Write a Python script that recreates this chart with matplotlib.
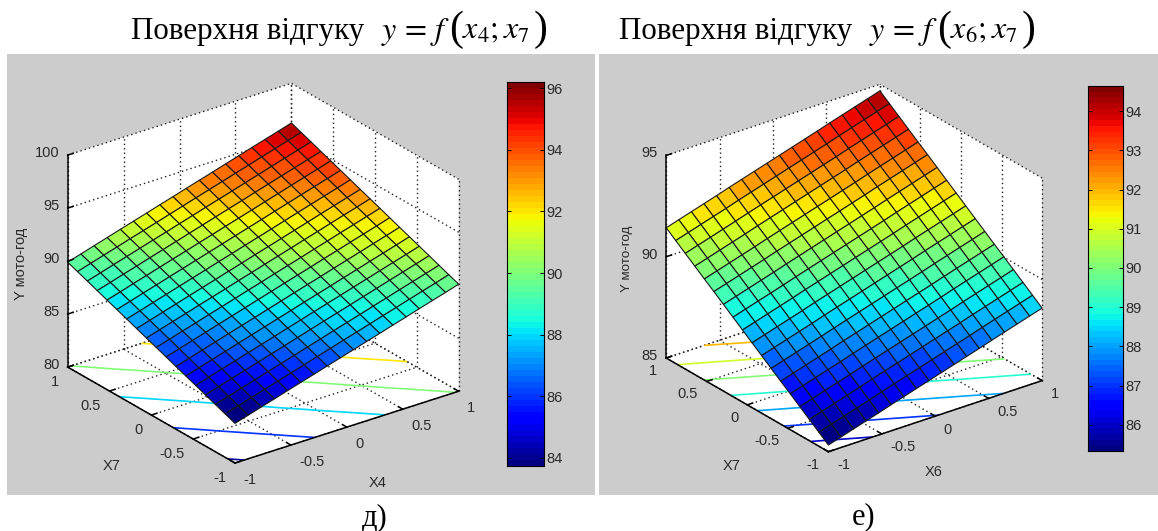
"""Response surfaces y = f(x4; x7) and y = f(x6; x7), MATLAB surfc style."""
import numpy as np
import matplotlib
matplotlib.use("Agg")
import matplotlib.pyplot as plt
from matplotlib.colors import Normalize
from matplotlib.patches import Rectangle
from mpl_toolkits.mplot3d import proj3d

W, H = 1158, 531
plt.rcParams["font.family"] = ["Liberation Sans", "DejaVu Sans"]
plt.rcParams["mathtext.fontset"] = "stix"

XY_TICKS = [-1, -0.5, 0, 0.5, 1]
XY_LABELS = ["-1", "-0.5", "0", "0.5", "1"]

# left panel: value at the (-1,-1) corner, rise along each edge
# interior cells are taken as the sum of the two edges
base_a = 83.74
x4_rise = [0, .37, .75, 1.12, 1.50, 1.87, 2.24, 2.62, 2.99, 3.37, 3.74, 4.11, 4.49, 4.86, 5.24, 5.61, 5.98, 6.36]
x7_rise_a = [0, .36, .72, 1.09, 1.45, 1.81, 2.17, 2.54, 2.90, 3.26, 3.62, 3.99, 4.35, 4.71, 5.07, 5.44, 5.80, 6.16]
z_ticks_a = [80, 85, 90, 95, 100]
cbar_ticks_a = [84, 86, 88, 90, 92, 94, 96]
levels_a = [84, 86, 88, 90, 92, 94, 96]
clim_a = (83.74, 96.2)

# right panel
base_b = 85.33
x6_rise = [0, .19, .38, .57, .76, .96, 1.15, 1.34, 1.53, 1.72, 1.91, 2.10, 2.29, 2.49, 2.68, 2.87, 3.06, 3.25]
x7_rise_b = [0, .36, .72, 1.08, 1.44, 1.79, 2.15, 2.51, 2.87, 3.23, 3.59, 3.95, 4.31, 4.66, 5.02, 5.38, 5.74, 6.10]
z_ticks_b = [85, 90, 95]
cbar_ticks_b = [86, 87, 88, 89, 90, 91, 92, 93, 94]
levels_b = [86, 87, 88, 89, 90, 91, 92, 93, 94]
clim_b = (85.33, 94.64)

cmap = plt.get_cmap("jet", 64)
TEXT = "#2a2a2a"
TICK_SIZE = 10.5


def fx(px):
    return px / W


def fy(py):
    return 1 - py / H


def project(ax, x, y, z):
    xs, ys, _ = proj3d.proj_transform(x, y, z, ax.get_proj())
    return ax.transData.transform((xs, ys))


def fit_box(ax, zmin, left_px, right_px, front_px):
    """Scale and shift the square 3D axes so the floor corners land on given pixels."""
    side = 500.0
    ax.set_position([fx(100), fy(600), side / W, side / H])
    ax.apply_aspect()
    a, b = project(ax, -1, 1, zmin), project(ax, 1, -1, zmin)
    side *= (right_px - left_px) / (b[0] - a[0])
    ax.set_position([fx(100), fy(600), side / W, side / H])
    ax.apply_aspect()
    f = project(ax, -1, -1, zmin)
    x0 = 100 + front_px[0] - f[0]
    y0 = 600 - ((H - front_px[1]) - f[1])
    ax.set_position([fx(x0), fy(y0), side / W, side / H])
    ax.apply_aspect()


def tick_label(fig, ax, point, text, dx, dy, ha):
    px, py = project(ax, *point)
    fig.text((px + dx) / W, (py - dy) / H, text, ha=ha, va="center",
             fontsize=TICK_SIZE, color=TEXT)


def draw_panel(fig, x_rise, y_rise, base, z_ticks, levels, clim, cbar_ticks,
               view, zratio, left_px, right_px, front_px, cbar_box, label_dy):
    ax = fig.add_axes([0, 0, 0.3, 0.3], projection="3d", proj_type="ortho")
    ax.set_axis_off()
    ax.patch.set_visible(False)
    ax.computed_zorder = False
    ax.view_init(elev=view[0], azim=view[1])
    zmin, zmax = z_ticks[0], z_ticks[-1]
    ax.set_xlim(-1, 1)
    ax.set_ylim(-1, 1)
    ax.set_zlim(zmin, zmax)
    ax.set_box_aspect((1, 1, zratio))
    fit_box(ax, zmin, left_px, right_px, front_px)

    # white walls and floor
    flat = np.array([[-1, 1], [-1, 1]])
    updown = flat.T
    wall_z = (updown + 1) / 2 * (zmax - zmin) + zmin
    ax.plot_surface(flat, updown, np.full((2, 2), zmin), color="white", shade=False, zorder=1)
    ax.plot_surface(flat, np.ones((2, 2)), wall_z, color="white", shade=False, zorder=1)
    ax.plot_surface(np.ones((2, 2)), flat, wall_z, color="white", shade=False, zorder=1)

    # dotted grid
    dots = dict(color="#222222", lw=1.0, ls=(0, (1, 2.2)), zorder=2, clip_on=False)
    for t in XY_TICKS:
        ax.plot([t, t], [-1, 1], [zmin, zmin], **dots)
        ax.plot([-1, 1], [t, t], [zmin, zmin], **dots)
        ax.plot([t, t], [1, 1], [zmin, zmax], **dots)
        ax.plot([1, 1], [t, t], [zmin, zmax], **dots)
    for t in z_ticks:
        ax.plot([-1, 1], [1, 1], [t, t], **dots)
        ax.plot([1, 1], [-1, 1], [t, t], **dots)

    # surface and its floor contours
    xs = np.linspace(-1, 1, len(x_rise))
    ys = np.linspace(-1, 1, len(y_rise))
    X, Y = np.meshgrid(xs, ys)
    Z = base + np.add.outer(np.array(y_rise), np.array(x_rise))
    norm = Normalize(*clim)
    ax.contour(X, Y, Z, levels=levels, zdir="z", offset=zmin, cmap=cmap, norm=norm,
               linewidths=1.2, zorder=3)
    surf = ax.plot_surface(X, Y, Z, rstride=1, cstride=1, facecolors=cmap(norm(Z)),
                           edgecolor="#181818", linewidth=0.8, shade=False, zorder=4)
    surf.set_clip_on(False)

    # solid axes, tick marks and tick labels
    solid = dict(color="black", lw=1.1, zorder=5, clip_on=False)
    ax.plot([-1, -1], [-1, 1], [zmin, zmin], **solid)
    ax.plot([-1, 1], [-1, -1], [zmin, zmin], **solid)
    ax.plot([-1, -1], [1, 1], [zmin, zmax], **solid)
    for t, lab in zip(XY_TICKS, XY_LABELS):
        ax.plot([t, t], [-1, -0.95], [zmin, zmin], **solid)
        ax.plot([-1, -0.95], [t, t], [zmin, zmin], **solid)
        tick_label(fig, ax, (t, -1, zmin), lab, 8.5, label_dy[0], "left")
        tick_label(fig, ax, (-1, t, zmin), lab, -8.7, label_dy[1], "right")
    for t in z_ticks:
        ax.plot([-1, -0.95], [1, 1], [t, t], **solid)
        tick_label(fig, ax, (-1, 1, t), str(t), -8.4, -2, "right")

    # colorbar
    cx0, cy0, cx1, cy1 = cbar_box
    cax = fig.add_axes([fx(cx0), fy(cy1), (cx1 - cx0) / W, (cy1 - cy0) / H])
    edges = np.linspace(clim[0], clim[1], 65)
    cax.pcolormesh([0, 1], edges, (edges[:-1] + edges[1:])[:, None] / 2, cmap=cmap, norm=norm)
    cax.set_xticks([])
    cax.yaxis.tick_right()
    cax.set_yticks(cbar_ticks)
    cax.tick_params(axis="y", direction="in", length=3, width=0.7, left=True, right=True,
                    labelsize=TICK_SIZE, labelcolor=TEXT, pad=1.5)
    for s in cax.spines.values():
        s.set_linewidth(0.8)
    return ax


def title(fig, x0, head, args):
    """Head text and formula set piece by piece, the brackets taller than the rest."""
    base = dict(family="Liberation Serif", color="black", ha="left", va="baseline")
    fig.text(fx(x0), fy(38.5), head, fontsize=22.3, **base)
    fig.text(fx(x0 + 250), fy(38.5), r"$y\,=\,f$", fontsize=23, **base)
    fig.text(fx(x0 + 318), fy(40), "(", fontsize=30, **base)
    fig.text(fx(x0 + 331), fy(38.5), args, fontsize=23, **base)
    fig.text(fx(x0 + 403), fy(40), ")", fontsize=30, **base)


fig = plt.figure(figsize=(W / 100, H / 100), dpi=100, facecolor="white")
fig.add_artist(Rectangle((fx(7), fy(495)), 588 / W, 441 / H, transform=fig.transFigure,
                         facecolor="#cccccc", edgecolor="none", zorder=-5))
fig.add_artist(Rectangle((fx(599), fy(495)), 559 / W, 441 / H, transform=fig.transFigure,
                         facecolor="#cccccc", edgecolor="none", zorder=-5))

draw_panel(fig, x4_rise, x7_rise_a, base_a, z_ticks_a, levels_a, clim_a, cbar_ticks_a,
           (25.4, -126.8), 0.84, 67.7, 458.7, (235, 463), (507, 82, 544, 466), (16.5, 14.7))
draw_panel(fig, x6_rise, x7_rise_b, base_b, z_ticks_b, levels_b, clim_b, cbar_ticks_b,
           (26.0, -127.2), 0.84, 666.1, 1042, (828.4, 451.7), (1088, 86, 1123, 451), (13.5, 13))

title(fig, 131, "Поверхня відгуку", r"$x_4;x_7$")
title(fig, 619, "Поверхня відгуку", r"$x_6;x_7$")
serif = dict(family="Liberation Serif", fontsize=22, color="black", ha="center", va="baseline")
fig.text(fx(375), fy(525), "д)", **serif)
fig.text(fx(864), fy(524), "е)", **serif)

small = dict(color=TEXT, ha="center", va="center")
fig.text(fx(378), fy(483), "X4", fontsize=TICK_SIZE, **small)
fig.text(fx(112), fy(466), "X7", fontsize=TICK_SIZE, **small)
fig.text(fx(21.5), fy(264), "Y мото-год", rotation=90, fontsize=10.5, **small)
fig.text(fx(934), fy(472), "X6", fontsize=TICK_SIZE, **small)
fig.text(fx(732), fy(466), "X7", fontsize=TICK_SIZE, **small)
fig.text(fx(627), fy(259), "Y мото-год", rotation=90, fontsize=9.6, **small)

fig.savefig("out.png", dpi=100)
